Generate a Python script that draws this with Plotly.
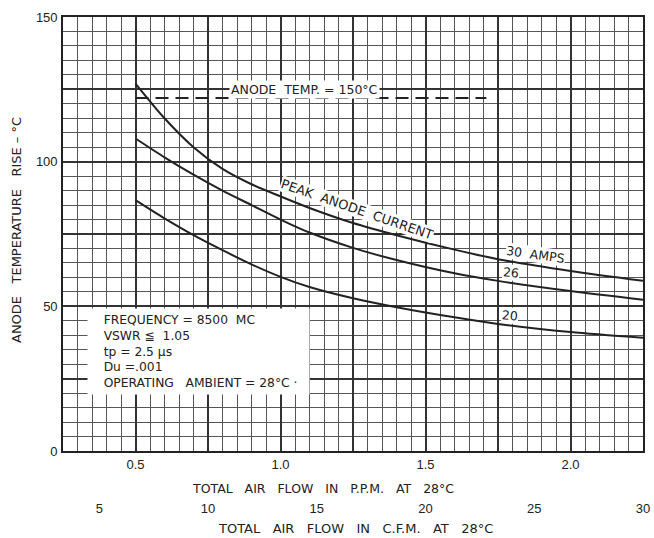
import plotly.graph_objects as go

# ---- data ----
ppm = [0.5, 0.6, 0.7, 0.8, 0.9, 1.0, 1.1, 1.25, 1.4, 1.6, 1.75, 2.0, 2.25]
amps30 = [127.0, 115.0, 105.0, 97.5, 92.2, 88.0, 84.0, 78.8, 74.6, 69.6, 66.3, 62.2, 58.8]
amps26 = [108.0, 101.5, 95.5, 90.0, 85.0, 80.0, 75.5, 70.2, 66.0, 61.4, 58.8, 55.3, 52.3]
amps20 = [86.7, 80.4, 74.6, 69.4, 64.5, 60.2, 56.7, 52.8, 49.7, 46.2, 43.9, 41.1, 39.1]

limit_x = [0.5, 1.71]
limit_y = [122, 122]

x_ticks = [0.25, 0.5, 0.75, 1.0, 1.25, 1.5, 1.75, 2.0, 2.25]
x_ticktext = ["", "0.5", "", "1.0", "", "1.5", "", "2.0", ""]
cfm_ticks = [5, 10, 15, 20, 25, 30]
cfm_ticktext = ["5", "10", "15", "20", "25", "30"]
y_ticks = [0, 25, 50, 75, 100, 125, 150]
y_ticktext = ["0", "", "50", "", "100", "", "150"]

PPM_RANGE = [0.25, 2.25]
CFM_PER_PPM = 40.0 / 3.0

INK = "#222222"
FONT = "DejaVu Sans"
NUMFONT = "Liberation Sans"

fig = go.Figure()
for ys in (amps30, amps26, amps20):
    fig.add_trace(go.Scatter(x=ppm, y=ys, mode="lines",
                             line=dict(color=INK, width=2, shape="spline", smoothing=0.8),
                             showlegend=False, hoverinfo="skip"))
fig.add_trace(go.Scatter(x=limit_x, y=limit_y, mode="lines",
                         line=dict(color=INK, width=2, dash="13px,7px"), showlegend=False, hoverinfo="skip"))
# invisible trace for the secondary (C.F.M.) axis
fig.add_trace(go.Scatter(x=[PPM_RANGE[0] * CFM_PER_PPM, PPM_RANGE[1] * CFM_PER_PPM], y=[None, None],
                         xaxis="x2", mode="lines", showlegend=False, hoverinfo="skip"))

grid_major = dict(color="#333333", width=1.6)
grid_minor = dict(color="#555555", width=0.8)

fig.update_layout(
    width=654, height=538,
    margin=dict(l=63, r=11, t=17, b=87, autoexpand=False),
    paper_bgcolor="white", plot_bgcolor="white",
    font=dict(family=NUMFONT, size=13, color=INK),
    xaxis=dict(range=PPM_RANGE, tickmode="array", tickvals=x_ticks, ticktext=x_ticktext,
               showgrid=True, gridcolor=grid_major["color"], gridwidth=grid_major["width"],
               minor=dict(tickmode="linear", tick0=0.25, dtick=0.05, showgrid=True,
                          gridcolor=grid_minor["color"], gridwidth=grid_minor["width"]),
               showline=True, mirror=True, linecolor=INK, linewidth=1.6, automargin=False,
               ticks="", zeroline=False, ticklabelstandoff=1),
    xaxis2=dict(range=[PPM_RANGE[0] * CFM_PER_PPM, PPM_RANGE[1] * CFM_PER_PPM], overlaying="x",
                anchor="y", side="bottom", tickmode="array", tickvals=cfm_ticks, ticktext=cfm_ticktext,
                showgrid=False, showline=False, ticks="", zeroline=False, ticklabelstandoff=48,
                automargin=False),
    yaxis=dict(range=[0, 150], tickmode="array", tickvals=y_ticks, ticktext=y_ticktext,
               showgrid=True, gridcolor=grid_major["color"], gridwidth=grid_major["width"],
               minor=dict(tickmode="linear", tick0=0, dtick=5, showgrid=True,
                          gridcolor=grid_minor["color"], gridwidth=grid_minor["width"]),
               showline=True, mirror=True, linecolor=INK, linewidth=1.6, automargin=False,
               ticks="", zeroline=False, ticklabelstandoff=1),
)

F = dict(family=FONT, size=12.5, color=INK)
F13 = dict(family=FONT, size=13, color=INK)
ann = []
# axis titles
ann.append(dict(text="TOTAL   AIR   FLOW   IN   P.P.M.   AT   28°C", xref="paper", yref="paper",
                x=(323 - 63) / 580, y=-37 / 434, xanchor="center", yanchor="middle", showarrow=False,
                font=F))
ann.append(dict(text="TOTAL   AIR   FLOW   IN   C.F.M.   AT   28°C", xref="paper", yref="paper",
                x=(355 - 63) / 580, y=-77 / 434, xanchor="center", yanchor="middle", showarrow=False,
                font=F13))
ann.append(dict(text="ANODE   TEMPERATURE   RISE – °C", xref="paper", yref="paper",
                x=-47 / 580, y=(451 - 230) / 434, xanchor="center", yanchor="middle",
                textangle=-90, showarrow=False, font=F13))
# in-plot labels
ann.append(dict(text="ANODE  TEMP. = 150°C", x=1.084, y=125, showarrow=False, bgcolor="white",
                borderpad=1, font=F))
ann.append(dict(text="PEAK  ANODE  CURRENT", x=1.265, y=83.4, showarrow=False, bgcolor="white",
                borderpad=0, textangle=19, font=F13))
ann.append(dict(text="30  AMPS", x=1.88, y=67.8, showarrow=False, bgcolor="white",
                borderpad=0, textangle=8, font=F))
ann.append(dict(text="26", x=1.795, y=61.6, showarrow=False, bgcolor="white",
                borderpad=0, textangle=5, font=F))
ann.append(dict(text="20", x=1.79, y=47.0, showarrow=False, bgcolor="white",
                borderpad=0, textangle=5, font=F))
box_lines = ["FREQUENCY = 8500  MC", "VSWR ≦  1.05", "tp = 2.5 µs", "Du =.001",
             "OPERATING   AMBIENT = 28°C ·"]
ann.append(dict(text="<br>".join("&nbsp;&nbsp;&nbsp;&nbsp;" + s for s in box_lines),
                x=0.333, y=49.3, xanchor="left", yanchor="top", align="left", valign="middle",
                width=221, height=85, bgcolor="white", borderpad=0, showarrow=False,
                font=dict(family=FONT, size=12.3, color=INK)))
fig.update_layout(annotations=ann)

fig.write_html("out.html", config={"displayModeBar": False},
               post_script="document.body.style.margin='0';")
